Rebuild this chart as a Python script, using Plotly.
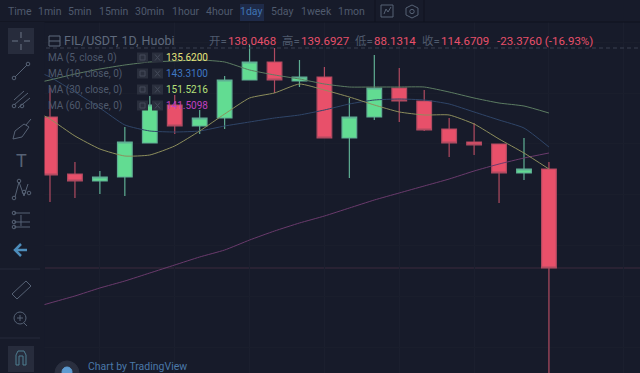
import plotly.graph_objects as go

# ---- data ----
days = list(range(21))
opens = [150.34,136.87,135.22,136.16,144.20,153.17,148.21,150.10,159.08,163.33,158.84,159.78,145.38,150.34,157.19,154.12,147.50,144.43,143.96,137.11,138.05]
highs = [157.19,139.71,137.58,147.97,155.30,155.53,151.99,160.02,167.34,166.63,163.80,162.15,154.82,164.98,161.91,156.71,150.10,148.92,143.96,145.38,139.69]
lows = [130.26,131.20,132.15,131.68,144.20,146.32,146.32,147.50,159.08,156.01,157.42,145.38,135.93,149.63,149.16,147.03,140.89,141.36,130.02,135.46,88.13]
closes = [136.64,135.22,136.16,144.43,153.17,148.21,150.10,159.08,163.33,159.08,159.78,145.38,150.34,157.19,154.12,147.27,144.20,143.72,137.11,138.05,114.67]
ma_days = list(range(-1, 21))
ma5 = [153.00,149.86,145.85,142.78,141.12,141.36,143.49,147.03,151.04,154.82,156.01,158.13,156.71,155.06,153.17,151.52,150.81,150.81,148.68,145.14,141.83,138.05]
ma10 = [162.40,159.78,156.24,152.46,148.45,147.03,146.79,147.03,148.21,149.16,150.10,150.81,151.99,153.41,154.35,154.59,154.35,153.41,151.52,149.63,147.74,143.25]
ma30 = [157.80,159.08,160.49,161.67,162.62,163.33,163.56,163.80,163.33,161.44,160.26,159.31,158.13,157.42,157.42,157.42,157.42,156.24,154.82,153.64,152.93,151.28]
ma60 = [104.70,106.40,108.06,109.95,111.60,113.49,115.38,117.27,118.92,121.28,123.41,125.30,126.95,128.84,130.73,132.39,134.04,135.69,137.58,139.23,140.65,141.83]
ma_names = ["MA (5, close, 0)", "MA (10, close, 0)", "MA (30, close, 0)", "MA (60, close, 0)"]
ma_values = ["135.6200", "143.3100", "151.5216", "141.5098"]
intervals = ["Time", "1min", "5min", "15min", "30min", "1hour", "4hour", "1day", "5day", "1week", "1mon"]
last_close = 114.67

W, H = 640, 373
BG = "#171b2a"; ICON = "#566275"; TXT = "#4f5a6d"
RED = "#e8506a"; GREEN = "#62dc92"
FONT = "Roboto, 'Noto Sans CJK SC', sans-serif"

def X(x): return x / W
def Y(y): return 1 - y / H
shapes = []; ann = []

def rect(x0, y0, x1, y1, fill, line=None, w=1):
    shapes.append(dict(type="rect", xref="paper", yref="paper", x0=X(x0), y0=Y(y0), x1=X(x1), y1=Y(y1),
                       fillcolor=fill, line=dict(color=line or fill, width=w if line else 0), layer="above"))
def path(pts, color=ICON, w=1, close=False, dash=None, fill=None):
    d = "M" + " L".join(f"{X(a):.5f} {Y(b):.5f}" for a, b in pts) + (" Z" if close else "")
    shapes.append(dict(type="path", xref="paper", yref="paper", path=d, fillcolor=fill,
                       line=dict(color=color, width=w, dash=dash or "solid"), layer="above"))
def circ(cx, cy, r, color=ICON, fill=None, w=1):
    shapes.append(dict(type="circle", xref="paper", yref="paper", x0=X(cx-r), x1=X(cx+r), y0=Y(cy+r), y1=Y(cy-r),
                       fillcolor=fill, line=dict(color=color, width=w), layer="above"))
def text(x, y, s, color=TXT, size=10, anchor="left"):
    ann.append(dict(xref="paper", yref="paper", x=X(x), y=Y(y), text=s, showarrow=False, xanchor=anchor,
                    yanchor="middle", font=dict(family=FONT, size=size, color=color), borderpad=0, borderwidth=0))

fig = go.Figure()
for vals, col in [(ma60, "#6a3a6c"), (ma30, "#5c7c62"), (ma10, "#2f4568"), (ma5, "#8d8e5c")]:
    fig.add_trace(go.Scatter(x=ma_days, y=vals, mode="lines", line=dict(color=col, width=1, shape="spline", smoothing=0.5),
                             hoverinfo="skip", showlegend=False))
fig.add_trace(go.Candlestick(x=days, open=opens, high=highs, low=lows, close=closes, whiskerwidth=0,
                             increasing=dict(line=dict(color="#5fae93", width=1.2), fillcolor=GREEN),
                             decreasing=dict(line=dict(color="#b04a60", width=1.2), fillcolor=RED),
                             showlegend=False))

# header / toolbars (chrome)
rect(0, 0, 640, 22, BG)
path([(0, 22), (640, 22)], "#10131f", 1)
path([(375, 0), (375, 22)], "#10131f", 1)
path([(424, 0), (424, 22)], "#10131f", 1)
rect(0, 22, 44.5, 373, BG)
path([(0, 269), (40, 269)], "#262b3a", 1)
path([(0, 338), (40, 338)], "#262b3a", 1)
rect(240, 4, 264, 21, "#1e2a48")
centers = [20, 50, 80, 114, 150, 185, 219, 251, 282, 316, 351]
for lab, cx in zip(intervals, centers):
    text(cx, 11.5, lab, "#3f74b4" if lab == "1day" else TXT, 10.5, "center")

# top-right icons
rect(381, 5, 393, 17, BG, ICON, 1)
path([(384, 14), (386, 9), (388, 12), (391, 7)], ICON, 1)
path([(412, 5), (418, 8), (418, 15), (412, 18), (406, 15), (406, 8)], ICON, 1, True)
circ(412, 11.5, 2.2)

# left icons
rect(8, 28, 34, 54, "#272c3c")
path([(12, 41), (18, 41)], "#6b7586"); path([(24, 41), (30, 41)], "#6b7586")
path([(21, 32), (21, 38)], "#6b7586"); path([(21, 44), (21, 50)], "#6b7586")
path([(15, 77), (27, 65)]); circ(14, 78, 1.8); circ(28, 64, 1.8)
path([(14, 100), (24, 91)]); path([(14, 105), (28, 93)]); path([(18, 108), (30, 98)]); circ(14, 106, 1.8); circ(22, 106, 1.8)
path([(13, 139), (15, 131), (24, 124), (29, 127), (22, 137)], ICON, 1, True); path([(26, 125), (31, 119)])
text(21, 160, "T", ICON, 18, "center")
path([(15, 197), (19, 182), (24, 196), (28, 184)]); circ(14, 198, 1.8); circ(19, 181, 1.8); circ(24, 192, 1.8); circ(29, 193, 1.8)
for yy in [213, 222, 227]:
    path([(14, yy), (30, yy)])
    circ(14, yy, 1.8)
path([(21, 215), (21, 226)])
path([(15, 250), (27, 250)], "#4d8dbb", 2.5); path([(21, 244), (15, 250), (21, 256)], "#4d8dbb", 2.5)
path([(12, 294), (26, 281), (31, 286), (17, 299)], ICON, 1, True)
circ(20, 318, 6); path([(20, 315), (20, 321)]); path([(17, 318), (23, 318)]); path([(24, 323), (27, 326)])
rect(8, 346, 34, 372, "#272c3c")
path([(16, 365), (16, 355), (18, 351), (24, 351), (26, 355), (26, 365), (23, 365), (23, 356), (19, 356), (19, 365)], "#4f7f92", 1, True)

# legend block
path([(46, 48), (640, 48)], "#3a4050", 1, dash="4px,3px")
text(64, 41, "FIL/USDT, 1D, Huobi", "#5f6a7d", 12.5)
rect(49, 36, 60, 46, "rgba(0,0,0,0)", "#5f6a7d", 1)
path([(49, 41), (60, 41)], "#5f6a7d", 1)
text(209, 41, "开=", TXT, 11.5); text(228, 41, "138.0468", RED, 11.5)
text(282, 41, "高=", TXT, 11.5); text(301, 41, "139.6927", RED, 11.5)
text(355, 41, "低=", TXT, 11.5); text(374, 41, "88.1314", RED, 11.5)
text(422, 41, "收=", TXT, 11.5); text(441, 41, "114.6709", RED, 11.5)
text(497, 41, "-23.3760 (-16.93%)", RED, 11.5)
val_cols = ["#e6e37a", "#3f78c4", "#b5e07a", "#c040c0"]
for k, (nm, v, col) in enumerate(zip(ma_names, ma_values, val_cols)):
    y = 57.5 + 16 * k
    text(48, y, nm, TXT, 10)
    text(208, y, v, col, 10, "right")
    rect(137, y - 5, 148, y + 5, "#2a2f3d"); rect(152, y - 5, 163, y + 5, "#2a2f3d")
    rect(140, y - 2.5, 145, y + 2.5, "rgba(0,0,0,0)", "#454b5a", 1)
    path([(155, y - 3), (160, y + 3)], "#454b5a"); path([(160, y - 3), (155, y + 3)], "#454b5a")

circ(67, 373, 12, "#2a2f3f", "#2a2f3f")
circ(67, 372, 5, "#5d9ad0", "#5d9ad0")
text(88, 366, "Chart by TradingView", "#4a78a8", 10.5)

# last price line
shapes.append(dict(type="line", xref="paper", x0=X(45), x1=1, y0=last_close, y1=last_close, yref="y",
                   line=dict(color="#3d2b3d", width=1), layer="below"))

fig.update_layout(width=W, height=H, margin=dict(l=0, r=0, t=0, b=0), paper_bgcolor=BG, plot_bgcolor=BG,
                  shapes=shapes, annotations=ann, showlegend=False, boxgap=0.16,
                  xaxis=dict(range=[-2.004, 23.65], showticklabels=False, ticks="", tick0=2, dtick=3, gridcolor="#1b1f2e",
                             zeroline=False, showline=False, rangeslider=dict(visible=False)),
                  yaxis=dict(range=[89.87, 177.97], showticklabels=False, ticks="", dtick=12, gridcolor="#1a1e2c",
                             zeroline=False, showline=False))
fig.write_html("out.html", config={"displayModeBar": False},
               post_script="document.body.style.margin='0';document.body.style.overflow='hidden';document.body.style.background='#171b2a';")
